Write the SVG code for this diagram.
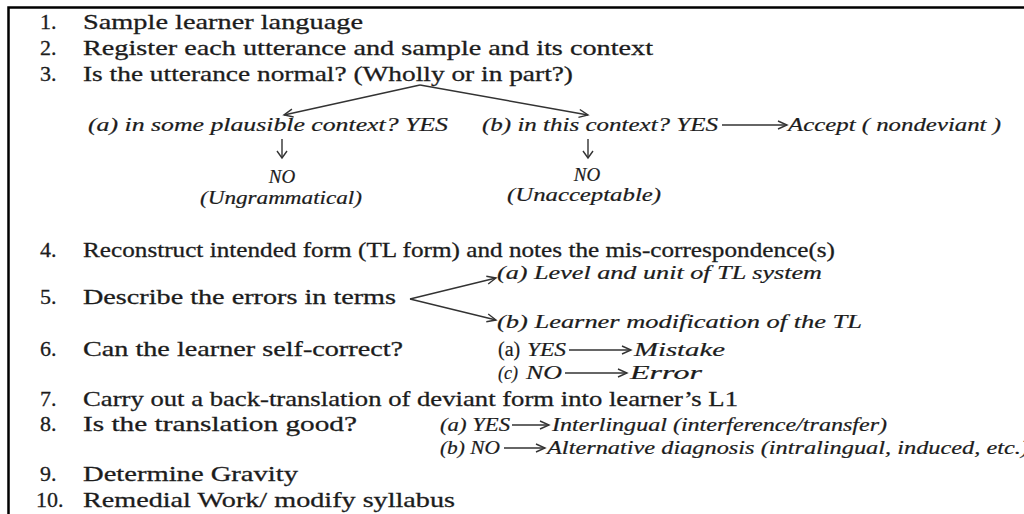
<svg xmlns="http://www.w3.org/2000/svg" width="1024" height="514" viewBox="0 0 1024 514">
<style>
.t{font-family:"Liberation Serif","Times New Roman",serif;font-size:22px;fill:#1c1c1c;stroke:#1c1c1c;stroke-width:0.3}
.i{font-family:"Liberation Serif","Times New Roman",serif;font-size:18px;font-style:italic;fill:#1c1c1c;stroke:#1c1c1c;stroke-width:0.2}
.u{font-family:"Liberation Serif","Times New Roman",serif;font-size:20px;fill:#1c1c1c;stroke:#1c1c1c;stroke-width:0.2}
.c{stroke:#333;stroke-width:1.4;fill:none}
</style>
<defs>
<marker id="ah" markerUnits="userSpaceOnUse" markerWidth="14" markerHeight="14" refX="10" refY="5" orient="auto"><path d="M1,1 L10,5 L1,9" fill="none" stroke="#333" stroke-width="1.4"/></marker>
<marker id="dn" markerUnits="userSpaceOnUse" markerWidth="16" markerHeight="16" refX="8" refY="6" orient="auto"><path d="M1,1 L8,6 L1,11" fill="none" stroke="#333" stroke-width="1.4"/></marker>
</defs>
<rect width="1024" height="514" fill="#fff"/>
<path d="M1024,7.5 H8.5 V514" stroke="#000" stroke-width="2.5" fill="none"/>

<g id="step1"><text class="t" x="40" y="29">1.</text><text class="t" x="83" y="29" textLength="280" lengthAdjust="spacingAndGlyphs">Sample learner language</text></g>
<g id="step2"><text class="t" x="40" y="55">2.</text><text class="t" x="83" y="55" textLength="570" lengthAdjust="spacingAndGlyphs">Register each utterance and sample and its context</text></g>
<g id="step3"><text class="t" x="40" y="81">3.</text><text class="t" x="83" y="81" textLength="490" lengthAdjust="spacingAndGlyphs">Is the utterance normal? (Wholly or in part?)</text></g>

<g id="step3a"><text class="i" x="88" y="131" textLength="360" lengthAdjust="spacingAndGlyphs">(a)  in some plausible context? YES</text></g>
<g id="step3b"><text class="i" x="482" y="131" textLength="236" lengthAdjust="spacingAndGlyphs">(b) in this context? YES</text></g>
<g id="accept"><text class="i" x="788" y="131" textLength="213" lengthAdjust="spacingAndGlyphs">Accept  ( nondeviant )</text></g>
<g id="ungram"><text class="i" x="282" y="183" text-anchor="middle" style="font-size:19px">NO</text><text class="i" x="281" y="204" text-anchor="middle" textLength="162" lengthAdjust="spacingAndGlyphs">(Ungrammatical)</text></g>
<g id="unaccept"><text class="i" x="587" y="181" text-anchor="middle" style="font-size:19px">NO</text><text class="i" x="584" y="201" text-anchor="middle" textLength="154" lengthAdjust="spacingAndGlyphs">(Unacceptable)</text></g>

<g id="step4"><text class="t" x="40" y="257">4.</text><text class="t" x="83" y="257" textLength="752" lengthAdjust="spacingAndGlyphs">Reconstruct intended form (TL form) and notes the mis-correspondence(s)</text></g>
<g id="step5"><text class="t" x="40" y="304">5.</text><text class="t" x="83" y="304" textLength="313" lengthAdjust="spacingAndGlyphs">Describe the errors in terms</text></g>
<g id="step5a"><text class="i" x="497" y="279" textLength="325" lengthAdjust="spacingAndGlyphs">(a)  Level and unit of TL system</text></g>
<g id="step5b"><text class="i" x="497" y="328" textLength="365" lengthAdjust="spacingAndGlyphs">(b)  Learner modification  of the TL</text></g>
<g id="step6"><text class="t" x="40" y="356">6.</text><text class="t" x="83" y="356" textLength="320" lengthAdjust="spacingAndGlyphs">Can the learner self-correct?</text></g>
<g id="step6a"><text class="u" x="498" y="356">(a)</text><text class="i" x="527" y="356" textLength="39" lengthAdjust="spacingAndGlyphs">YES</text><text class="i" x="634" y="356" textLength="91" lengthAdjust="spacingAndGlyphs">Mistake</text></g>
<g id="step6c"><text class="i" x="498" y="379">(c)</text><text class="i" x="526" y="379" textLength="36" lengthAdjust="spacingAndGlyphs">NO</text><text class="i" x="630" y="379" textLength="72" lengthAdjust="spacingAndGlyphs">Error</text></g>
<g id="step7"><text class="t" x="40" y="406">7.</text><text class="t" x="83" y="406" textLength="655" lengthAdjust="spacingAndGlyphs">Carry out a back-translation of deviant form into learner’s L1</text></g>
<g id="step8"><text class="t" x="40" y="431">8.</text><text class="t" x="83" y="431" textLength="274" lengthAdjust="spacingAndGlyphs">Is the translation good?</text></g>
<g id="step8a"><text class="i" x="440" y="431" textLength="70" lengthAdjust="spacingAndGlyphs">(a) YES</text><text class="i" x="552" y="431" textLength="335" lengthAdjust="spacingAndGlyphs">Interlingual   (interference/transfer)</text></g>
<g id="step8b"><text class="i" x="440" y="454" textLength="60" lengthAdjust="spacingAndGlyphs">(b) NO</text><text class="i" x="547" y="454" textLength="482" lengthAdjust="spacingAndGlyphs">Alternative  diagnosis  (intralingual,  induced,  etc.)</text></g>
<g id="step9"><text class="t" x="40" y="481">9.</text><text class="t" x="83" y="481" textLength="215" lengthAdjust="spacingAndGlyphs">Determine Gravity</text></g>
<g id="step10"><text class="t" x="36" y="507">10.</text><text class="t" x="83" y="507" textLength="372" lengthAdjust="spacingAndGlyphs">Remedial Work/ modify syllabus</text></g>

<g id="connectors" class="c">
<path d="M420,85 L284,115" marker-end="url(#ah)"/>
<path d="M420,85 L588,115" marker-end="url(#ah)"/>
<path d="M282,139 V158" marker-end="url(#dn)"/>
<path d="M588,139 V158" marker-end="url(#dn)"/>
<path d="M722,125 H787" marker-end="url(#ah)"/>
<path d="M410,299 L496,278" marker-end="url(#ah)"/>
<path d="M410,299 L496,320" marker-end="url(#ah)"/>
<path d="M569,350 H631" marker-end="url(#ah)"/>
<path d="M565,373 H627" marker-end="url(#ah)"/>
<path d="M512,425 H549" marker-end="url(#ah)"/>
<path d="M504,448 H545" marker-end="url(#ah)"/>
</g>
</svg>
